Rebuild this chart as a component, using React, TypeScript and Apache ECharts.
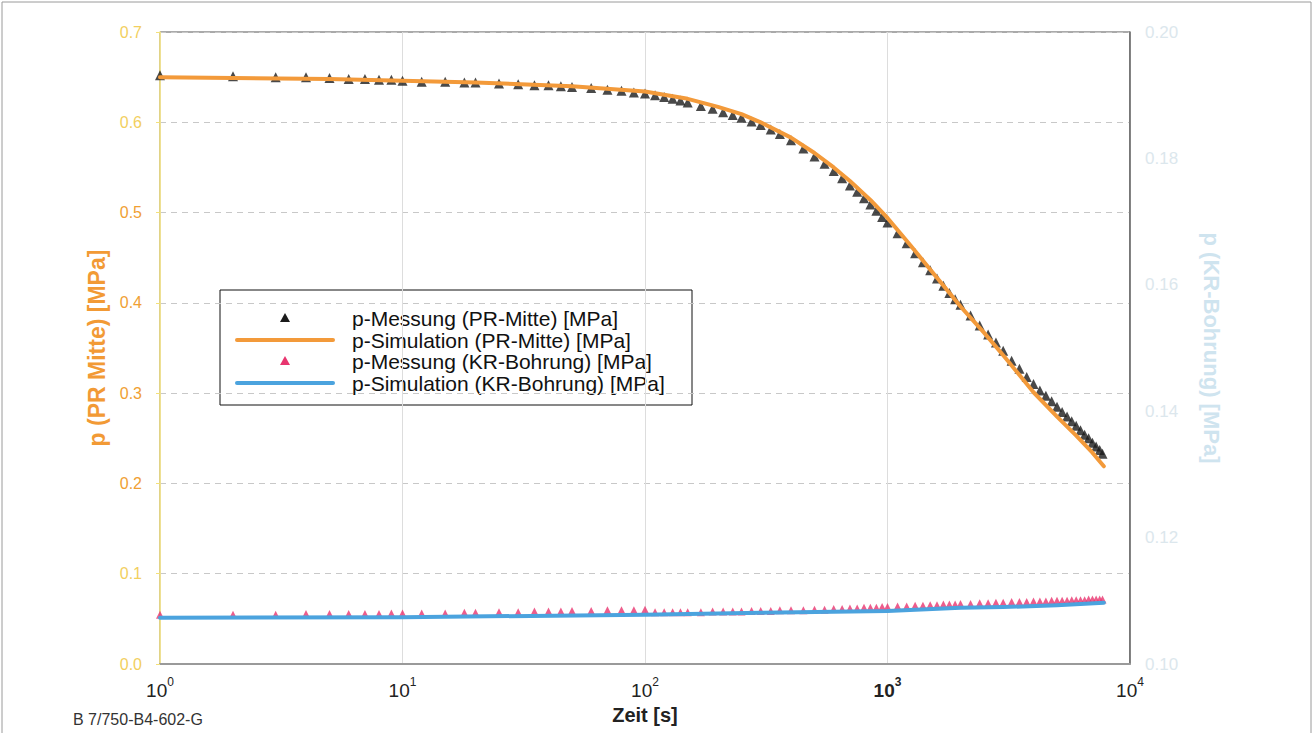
import React, { useEffect, useRef } from "react";
import * as echarts from "echarts";

// Measurement times [s]
const measTimes = [
  1, 2, 3, 4, 5, 6, 7, 8, 9, 10,
  12, 15, 18, 20, 25, 30, 35, 40, 45, 50, 60, 70, 80, 90, 100,
  110, 120, 130, 140, 150, 170, 190, 210, 230, 250, 275, 300, 330, 360, 400, 450, 500, 550, 600, 650, 700, 750, 800, 850, 900, 950, 1000,
  1100, 1200, 1300, 1400, 1500, 1600, 1700, 1800, 1900, 2000,
  2200, 2400, 2600, 2800, 3000,
  3250, 3500, 3750, 4000, 4250, 4500, 4750, 5000, 5250, 5500, 5750, 6000, 6250, 6500, 6750, 7000, 7250, 7500, 7700,
];

// p-Messung (PR-Mitte) [MPa]
const pMessPR = [
  0.652, 0.651, 0.65, 0.65, 0.649, 0.648, 0.648, 0.647, 0.647, 0.646,
  0.645, 0.645, 0.644, 0.644, 0.643, 0.642, 0.641, 0.641, 0.64, 0.639, 0.638, 0.636, 0.635, 0.633, 0.632,
  0.63, 0.628, 0.626, 0.624, 0.622, 0.618, 0.615, 0.611, 0.608, 0.605, 0.601, 0.597, 0.592, 0.587, 0.58, 0.571, 0.562, 0.554, 0.546, 0.538, 0.53, 0.523, 0.516, 0.509, 0.502, 0.495, 0.489,
  0.477, 0.466, 0.455, 0.445, 0.436, 0.427, 0.419, 0.411, 0.404, 0.398,
  0.386, 0.375, 0.365, 0.356, 0.347,
  0.336, 0.327, 0.318, 0.31, 0.303, 0.297, 0.291, 0.285, 0.279, 0.274, 0.269, 0.264, 0.259, 0.254, 0.25, 0.245, 0.241, 0.237, 0.233,
];

// p-Messung (KR-Bohrung) [MPa]
const pMessKR = [
  0.1078, 0.1078, 0.1078, 0.1079, 0.1079, 0.1079, 0.1079, 0.1079, 0.108, 0.108,
  0.108, 0.108, 0.1081, 0.1081, 0.1082, 0.1082, 0.1083, 0.1083, 0.1083, 0.1084, 0.1084, 0.1085, 0.1085, 0.1085, 0.1086,
  0.1082, 0.1082, 0.1082, 0.1082, 0.1082, 0.1082, 0.1083, 0.1083, 0.1083, 0.1083, 0.1084, 0.1084, 0.1084, 0.1085, 0.1085, 0.1085, 0.1086, 0.1086, 0.1087, 0.1087, 0.1088, 0.1088, 0.1089, 0.1089, 0.1089, 0.109, 0.109,
  0.1091, 0.1091, 0.1092, 0.1092, 0.1093, 0.1093, 0.1094, 0.1094, 0.1094, 0.1095,
  0.1095, 0.1096, 0.1096, 0.1097, 0.1097,
  0.1098, 0.1098, 0.1098, 0.1099, 0.1099, 0.1099, 0.11, 0.11, 0.11, 0.11, 0.1101, 0.1101, 0.1101, 0.1101, 0.1102, 0.1102, 0.1102, 0.1102, 0.1102,
];

// Simulation times [s]
const simTimesPR = [1, 2, 5, 10, 20, 50, 100, 150, 200, 250, 300, 400, 500, 600, 700, 850, 1000, 1250, 1500, 1750, 2000, 2500, 3000, 3500, 4000, 5000, 6000, 7000, 7800];
// p-Simulation (PR-Mitte) [MPa]
const pSimPR = [0.65, 0.649, 0.648, 0.646, 0.644, 0.64, 0.634, 0.626, 0.617, 0.609, 0.6, 0.583, 0.566, 0.55, 0.535, 0.514, 0.494, 0.463, 0.437, 0.415, 0.396, 0.367, 0.342, 0.32, 0.301, 0.274, 0.253, 0.234, 0.219];

const simTimesKR = [1, 10, 100, 300, 1000, 2000, 3000, 5000, 7800];
// p-Simulation (KR-Bohrung) [MPa]
const pSimKR = [0.1073, 0.1074, 0.1078, 0.1081, 0.1084, 0.1089, 0.109, 0.1093, 0.1097];

const seriesNames = [
  "p-Messung (PR-Mitte) [MPa]",
  "p-Simulation (PR-Mitte) [MPa]",
  "p-Messung (KR-Bohrung) [MPa]",
  "p-Simulation (KR-Bohrung) [MPa]",
];
const seriesColors = ["#1b1b1b", "#f39a3a", "#e8356f", "#4ba3de"];
const seriesKinds = ["marker", "line", "marker", "line"];

const FONT = "'Liberation Sans', Arial, Helvetica, sans-serif";

const zip = (xs: number[], ys: number[]) => xs.map((x, i) => [x, ys[i]]);

function legendGraphic() {
  const boxX = 220;
  const boxY = 290;
  const rowY = [318, 340, 361, 383];
  const children: any[] = [
    {
      type: "rect",
      shape: { x: boxX, y: boxY, width: 472, height: 115 },
      style: { fill: "#ffffff", stroke: "#111111", lineWidth: 1 },
    },
  ];
  seriesNames.forEach((name, i) => {
    const cy = rowY[i];
    if (seriesKinds[i] === "line") {
      children.push({
        type: "line",
        shape: { x1: 237, y1: cy, x2: 333, y2: cy },
        style: { stroke: seriesColors[i], lineWidth: 4, lineCap: "round" },
      });
    } else {
      children.push({
        type: "polygon",
        shape: { points: [[285, cy - 5], [290, cy + 4], [280, cy + 4]] },
        style: { fill: seriesColors[i] },
      });
    }
    children.push({
      type: "text",
      x: 352,
      y: cy,
      style: {
        text: name,
        fontFamily: FONT,
        fontSize: 21,
        fill: "#111111",
        verticalAlign: "middle",
        align: "left",
      },
    });
  });
  return { type: "group", z: 100, children };
}

export default function App() {
  const ref = useRef<HTMLDivElement>(null);
  useEffect(() => {
    if (!ref.current) return;
    const chart = echarts.init(ref.current, undefined, { renderer: "svg" });
    const paleLabels = ["0.7", "0.6", "0.1", "0.0"];
    chart.setOption({
      animation: false,
      backgroundColor: "#ffffff",
      textStyle: { fontFamily: FONT },
      grid: {
        left: 160,
        right: 184,
        top: 32,
        bottom: 69,
        show: true,
        borderColor: "#555555",
        borderWidth: 1,
      },
      xAxis: {
        type: "log",
        logBase: 10,
        min: 1,
        max: 10000,
        name: "Zeit [s]",
        nameLocation: "middle",
        nameGap: 34,
        nameTextStyle: { fontFamily: FONT, fontSize: 20, fontWeight: "bold", color: "#222222" },
        axisLine: { show: true, lineStyle: { color: "#9a9a9a", width: 2 } },
        axisTick: { show: false },
        splitLine: { show: true, lineStyle: { color: "#dddddd", width: 1 } },
        axisLabel: {
          margin: 12,
          formatter: (v: number) => {
            const e = Math.round(Math.log10(v));
            return e === 3 ? `{bb|10}{sb|${e}}` : `{b|10}{s|${e}}`;
          },
          rich: {
            b: { fontFamily: FONT, fontSize: 19, color: "#222222", lineHeight: 24, verticalAlign: "bottom" },
            s: { fontFamily: FONT, fontSize: 12, color: "#222222", lineHeight: 24, verticalAlign: "top" },
            bb: { fontFamily: FONT, fontSize: 19, fontWeight: "bold", color: "#222222", lineHeight: 24, verticalAlign: "bottom" },
            sb: { fontFamily: FONT, fontSize: 12, fontWeight: "bold", color: "#222222", lineHeight: 24, verticalAlign: "top" },
          },
        },
      },
      yAxis: [
        {
          type: "value",
          min: 0,
          max: 0.7,
          interval: 0.1,
          position: "left",
          name: "p (PR Mitte) [MPa]",
          nameLocation: "middle",
          nameGap: 48,
          nameRotate: 90,
          nameTextStyle: { fontFamily: FONT, fontSize: 23, fontWeight: "bold", color: "#f29a35" },
          axisLine: { show: true, lineStyle: { color: "#f3e07a", width: 1.5 } },
          axisTick: { show: true, length: 4, lineStyle: { color: "#f3e07a" } },
          splitLine: { show: true, lineStyle: { color: "#c8c8c8", type: [6, 5], width: 1 } },
          axisLabel: {
            margin: 18,
            fontFamily: FONT,
            fontSize: 16,
            formatter: (v: number) => v.toFixed(1),
            color: (v: string) => (paleLabels.includes(Number(v).toFixed(1)) ? "#f2cf5e" : "#f0a033"),
          },
        },
        {
          type: "value",
          min: 0.1,
          max: 0.2,
          interval: 0.02,
          position: "right",
          name: "p (KR-Bohrung) [MPa]",
          nameLocation: "middle",
          nameGap: 70,
          nameRotate: -90,
          nameTextStyle: { fontFamily: FONT, fontSize: 22, fontWeight: "bold", color: "#cfe4ef" },
          axisLine: { show: true, lineStyle: { color: "#666666", width: 1.5 } },
          axisTick: { show: false },
          splitLine: { show: false },
          axisLabel: {
            margin: 15,
            fontFamily: FONT,
            fontSize: 17,
            color: "#dce7ed",
            formatter: (v: number) => v.toFixed(2),
          },
        },
      ],
      graphic: [
        {
          type: "rect",
          shape: { x: 2, y: 2, width: 1309, height: 760 },
          style: { fill: "none", stroke: "#9a9a9a", lineWidth: 1 },
          silent: true,
          z: -10,
        },
        {
          type: "text",
          left: 73,
          top: 711,
          style: { text: "B 7/750-B4-602-G", fontFamily: FONT, fontSize: 16, fill: "#333333" },
        },
        legendGraphic(),
      ],
      series: [
        {
          name: seriesNames[0],
          type: "scatter",
          yAxisIndex: 0,
          symbol: "triangle",
          symbolSize: 10,
          itemStyle: { color: seriesColors[0] },
          data: zip(measTimes, pMessPR),
        },
        {
          name: seriesNames[1],
          type: "line",
          yAxisIndex: 0,
          showSymbol: false,
          symbol: "none",
          lineStyle: { color: seriesColors[1], width: 4, cap: "round", join: "round" },
          itemStyle: { color: seriesColors[1] },
          data: zip(simTimesPR, pSimPR),
        },
        {
          name: seriesNames[2],
          type: "scatter",
          yAxisIndex: 1,
          symbol: "triangle",
          symbolSize: 8,
          itemStyle: { color: seriesColors[2] },
          data: zip(measTimes, pMessKR),
        },
        {
          name: seriesNames[3],
          type: "line",
          yAxisIndex: 1,
          showSymbol: false,
          symbol: "none",
          lineStyle: { color: seriesColors[3], width: 4, cap: "round", join: "round" },
          itemStyle: { color: seriesColors[3] },
          data: zip(simTimesKR, pSimKR),
        },
      ],
    });
    return () => chart.dispose();
  }, []);
  return (
    <div
      ref={ref}
      style={{ position: "fixed", left: 0, top: 0, width: 1314, height: 733, background: "#fff" }}
    />
  );
}
